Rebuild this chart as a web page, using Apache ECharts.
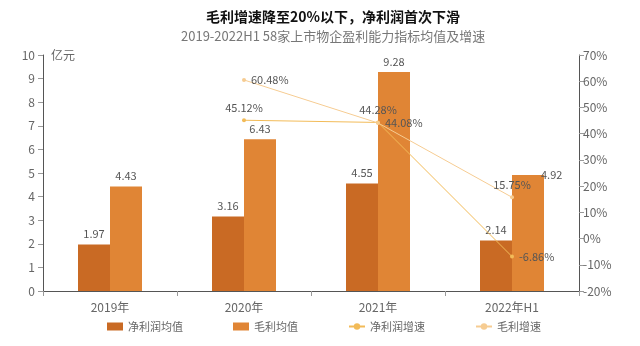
<!DOCTYPE html>
<html><head><meta charset="utf-8">
<script src="https://cdn.jsdelivr.net/npm/echarts@6/dist/echarts.min.js"></script>
<style>html,body{margin:0;padding:0;background:#fff}#c{width:640px;height:346px}</style>
</head><body><div id="c"></div>
<script>
var categories = ['2019年', '2020年', '2021年', '2022年H1'];
var netAvg = [1.97, 3.16, 4.55, 2.14];
var grossAvg = [4.43, 6.43, 9.28, 4.92];
var netGrowth = [null, 45.12, 44.28, -6.86];
var grossGrowth = [null, 60.48, 44.08, 15.75];
var netGrowthLabelPos = [null, 'top', 'top', 'right'];
var grossGrowthLabelPos = [null, 'right', 'right', 'top'];

var chart = echarts.init(document.getElementById('c'));
var font = 'Noto Sans CJK SC';
function lineData(vals, pos) {
  return vals.map(function (v, i) {
    if (v === null) return null;
    return { value: v, label: { position: pos[i] } };
  });
}
var grossBarData = grossAvg.map(function (v, i) {
  if (i === grossAvg.length - 1) {
    return { value: v, label: { position: [29, 0], align: 'left', verticalAlign: 'middle' } };
  }
  return v;
});
chart.setOption({
  animation: false,
  textStyle: { fontFamily: font },
  title: [
    { text: '毛利增速降至20%以下，净利润首次下滑', left: 201, top: 5,
      textStyle: { fontSize: 14, fontWeight: 'bold', color: '#111', fontFamily: font } },
    { text: '2019-2022H1 58家上市物企盈利能力指标均值及增速', left: 176, top: 25,
      textStyle: { fontSize: 13, fontWeight: 'normal', color: '#777', fontFamily: font } }
  ],
  grid: { left: 43, right: 61, top: 55, bottom: 55 },
  legend: {
    left: 102, bottom: 9, itemWidth: 16, itemHeight: 8, itemGap: 50,
    textStyle: { color: '#666', fontSize: 11 },
    data: [
      { name: '净利润均值', icon: 'rect' },
      { name: '毛利均值', icon: 'rect' },
      { name: '净利润增速' },
      { name: '毛利增速' }
    ]
  },
  xAxis: {
    type: 'category', data: categories,
    axisLine: { lineStyle: { color: '#555' } },
    axisTick: { show: true, alignWithLabel: false, lineStyle: { color: '#999' } },
    axisLabel: { color: '#666', fontSize: 12, margin: 10 }
  },
  yAxis: [
    { type: 'value', min: 0, max: 10, interval: 1, name: '亿元',
      nameLocation: 'end', nameGap: 0,
      nameTextStyle: { color: '#666', fontSize: 12, align: 'left', padding: [0, 0, 0, 8], verticalAlign: 'middle' },
      axisLine: { show: true, lineStyle: { color: '#555' } },
      axisTick: { show: true, lineStyle: { color: '#999' } },
      axisLabel: { color: '#666', fontSize: 12 },
      splitLine: { show: false } },
    { type: 'value', min: -20, max: 70, interval: 10, position: 'right',
      axisLine: { show: true, lineStyle: { color: '#555' } },
      axisTick: { show: true, lineStyle: { color: '#999' } },
      axisLabel: { color: '#666', fontSize: 12, formatter: '{value}%', margin: 4 },
      splitLine: { show: false } }
  ],
  series: [
    { name: '净利润均值', type: 'bar', data: netAvg, barWidth: 32, barGap: '0%',
      itemStyle: { color: '#c96a24' },
      label: { show: true, position: 'top', color: '#555', fontSize: 11 } },
    { name: '毛利均值', type: 'bar', data: grossBarData, barWidth: 32,
      itemStyle: { color: '#e08535' },
      label: { show: true, position: 'top', color: '#555', fontSize: 11 } },
    { name: '净利润增速', type: 'line', yAxisIndex: 1, data: lineData(netGrowth, netGrowthLabelPos),
      symbol: 'circle', symbolSize: 4, connectNulls: false,
      lineStyle: { color: '#f2bb58', width: 1 }, itemStyle: { color: '#f2bb58' },
      label: { show: true, color: '#555', fontSize: 11, formatter: function (p) { return p.value.toFixed(2) + '%'; } } },
    { name: '毛利增速', type: 'line', yAxisIndex: 1, data: lineData(grossGrowth, grossGrowthLabelPos),
      symbol: 'circle', symbolSize: 4,
      lineStyle: { color: '#f6cc92', width: 1 }, itemStyle: { color: '#f6cc92' },
      label: { show: true, color: '#555', fontSize: 11, formatter: function (p) { return p.value.toFixed(2) + '%'; } } }
  ]
});
</script></body></html>
